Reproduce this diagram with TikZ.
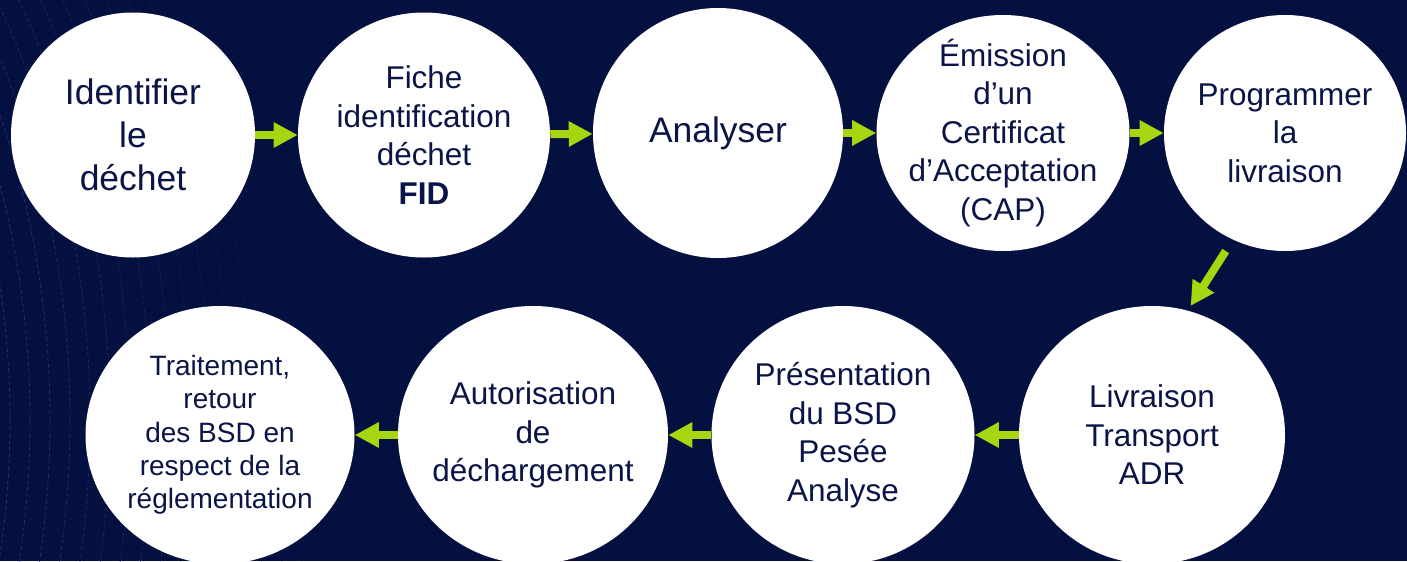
\documentclass[tikz,border=0pt]{standalone}
\usepackage{fontspec}
\setmainfont{Liberation Sans}
\usetikzlibrary{arrows.meta,shapes.geometric}

\definecolor{bgnavy}{HTML}{04103F}
\definecolor{inknavy}{HTML}{0B1446}
\definecolor{flowgreen}{HTML}{A5D610}
\definecolor{decoline}{HTML}{23337A}

\begin{document}
\begin{tikzpicture}[x=0.75pt, y=-0.75pt,
                    disc/.style 2 args={ellipse, fill=white, inner sep=0pt, minimum width=#1*0.75pt, minimum height=#2*0.75pt},
                    say/.style={text=inknavy, align=center, font=\fontsize{23.6}{28.9}\selectfont},
                    saybig/.style={say, font=\fontsize{26.6}{32.3}\selectfont},
                    saysmall/.style={say, font=\fontsize{21}{25}\selectfont},
                    flow/.style={draw=flowgreen, line width=6pt, -{Triangle[width=18pt, length=18pt]}}]
\useasboundingbox (0,0) rectangle (1407,561);
\clip (0,0) rectangle (1407,561);
\fill[bgnavy] (0,0) rectangle (1407,561);

% dashed arcs on the left
\foreach \r [count=\i] in {910,930,...,1210} {
    \pgfmathsetmacro\op{1-\i/18}
    \draw[decoline, line width=0.6pt, dash pattern=on 3pt off 2pt, opacity=\op] (-900,420) circle[radius=\r];
}

% top row
\node[disc={244}{245}] (ident) at (133,135) {};
\node[saybig] (ident-t) at (ident) {Identifier\\le\\déchet};
\node[disc={252}{245}] (fiche) at (424,135) {};
\node[say] (fiche-t) at (fiche) {Fiche\\identification\\déchet\\\textbf{FID}};
\node[disc={250}{250}] (analy) at (718,133) {};
\node[saybig] (analy-t) at (analy) {Analyser};
\node[disc={253}{236}] (emis) at (1003,133) {};
\node[say] (emis-t) at (emis) {Émission\\d’un\\Certificat\\d’Acceptation\\(CAP)};
\node[disc={242}{236}] (prog) at (1285,133) {};
\node[say] (prog-t) at (prog) {Programmer\\la\\livraison};

% bottom row
\node[disc={266}{258}] (livr) at (1152,435) {};
\node[say] (livr-t) at (livr) {Livraison\\Transport\\ADR};
\node[disc={263}{258}] (pres) at (843,435) {};
\node[say] (pres-t) at (pres) {Présentation\\du BSD\\Pesée\\Analyse};
\node[disc={270}{258}] (autor) at (533,435) {};
\node[say] (autor-t) at (autor) {Autorisation\\de\\déchargement};
\node[disc={269}{258}] (trait) at (220,435) {};
\node[saysmall] (trait-t) at (trait) {Traitement,\\retour\\des BSD en\\respect de la\\réglementation};

% arrows
\draw[flow] (ident) -- (fiche);
\draw[flow] (fiche) -- (analy);
\draw[flow] (analy) -- (emis);
\draw[flow] (emis) -- (prog);
\draw[flow, shorten <=10pt, shorten >=4pt] (prog.244) -- (livr.74);
\draw[flow] (livr) -- (pres);
\draw[flow] (pres) -- (autor);
\draw[flow] (autor) -- (trait);
\end{tikzpicture}
\end{document}
